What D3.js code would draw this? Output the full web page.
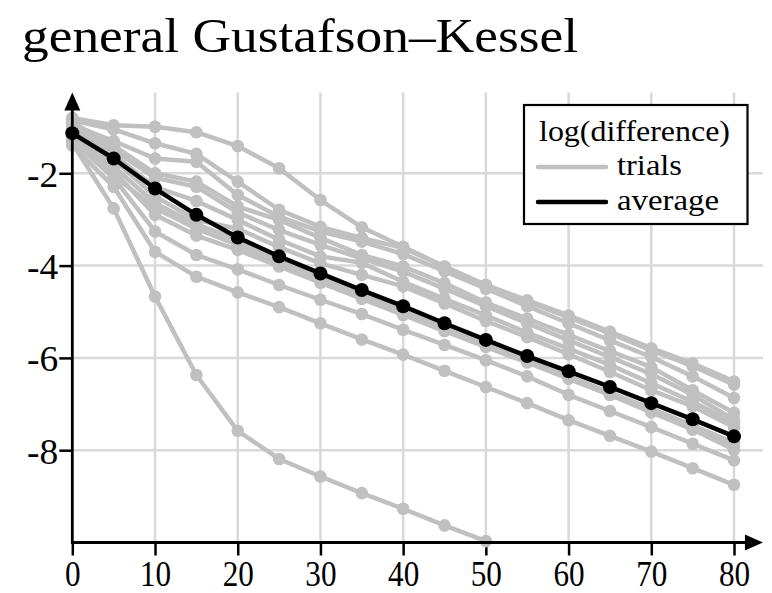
<!DOCTYPE html>
<html>
<head>
<meta charset="utf-8">
<script src="https://cdn.jsdelivr.net/npm/d3@7"></script>
<style>
  html, body { margin: 0; padding: 0; background: #fff; }
  svg { display: block; }
  text { font-family: "Liberation Serif", "Times New Roman", serif; fill: #000; }
</style>
</head>
<body>
<svg id="chart" width="772" height="593"></svg>
<script>
const titleText = "general Gustafson\u2013Kessel";
const legendTitle = "log(difference)";
const legendLabels = ["trials", "average"];

const xValues = [0, 5, 10, 15, 20, 25, 30, 35, 40, 45, 50, 55, 60, 65, 70, 75, 80];
const xTicks = [0, 10, 20, 30, 40, 50, 60, 70, 80];
const yTicks = [-8, -6, -4, -2];
const yTickLabels = ["-8", "-6", "-4", "-2"];

const trialU1 = [-0.80, -0.96, -0.99, -1.11, -1.41, -1.89, -2.58, -3.17, -3.59, -4.02, -4.42, -4.75, -5.08, -5.43, -5.79, -6.12, -6.51];
const trialU2 = [-0.85, -1.05, -1.35, -1.58, -2.18, -2.79, -3.16, -3.40, -3.62, -4.02, -4.42, -4.78, -5.12, -5.47, -5.84, -6.18, -6.58];
const trialU3 = [-0.95, -1.30, -1.68, -1.75, -2.47, -2.94, -3.26, -3.48, -3.75, -4.12, -4.50, -4.88, -5.25, -5.62, -5.98, -6.40, -6.87];
const trialU4 = [-0.90, -1.40, -2.00, -2.18, -2.72, -3.01, -3.40, -3.77, -4.02, -4.38, -4.80, -5.15, -5.50, -5.85, -6.20, -6.70, -7.19];
const trialU5 = [-1.00, -1.50, -2.10, -2.29, -2.85, -3.23, -3.55, -3.85, -4.13, -4.50, -4.88, -5.25, -5.62, -5.98, -6.35, -6.80, -7.34];
const trialU6 = [-1.05, -1.60, -2.30, -2.60, -3.01, -3.44, -3.80, -3.94, -4.35, -4.72, -5.08, -5.45, -5.80, -6.15, -6.55, -6.95, -7.41];
const trialU7 = [-1.15, -1.70, -2.50, -3.01, -3.20, -3.60, -3.95, -4.20, -4.45, -4.82, -5.20, -5.55, -5.92, -6.30, -6.70, -7.05, -7.50];
const trialL4 = [-1.10, -1.85, -2.65, -3.10, -3.45, -3.88, -4.25, -4.62, -4.98, -5.33, -5.68, -6.03, -6.40, -6.75, -7.10, -7.46, -7.84];
const trialL5 = [-1.25, -2.05, -2.75, -3.20, -3.55, -3.95, -4.30, -4.65, -5.00, -5.38, -5.72, -6.08, -6.45, -6.80, -7.18, -7.55, -7.92];
const trialL3 = [-1.20, -1.95, -2.90, -3.35, -3.66, -4.02, -4.37, -4.72, -5.07, -5.42, -5.76, -6.10, -6.45, -6.80, -7.15, -7.55, -7.99];
const trialL2 = [-1.30, -2.10, -3.26, -3.77, -4.08, -4.42, -4.74, -5.05, -5.39, -5.72, -6.05, -6.40, -6.80, -7.15, -7.50, -7.86, -8.22];
const trialL1 = [-1.40, -2.29, -3.70, -4.24, -4.58, -4.90, -5.25, -5.60, -5.93, -6.28, -6.63, -6.98, -7.35, -7.69, -8.03, -8.39, -8.75];
const trialOut = [-1.35, -2.76, -4.67, -6.37, -7.58, -8.19, -8.57, -8.93, -9.27, -9.63, -9.97];

const averageValues = [-1.13, -1.68, -2.33, -2.90, -3.39, -3.80, -4.17, -4.53, -4.88, -5.25, -5.61, -5.96, -6.29, -6.63, -6.98, -7.33, -7.70];

const trials = [trialU1, trialU2, trialU3, trialU4, trialU5, trialU6, trialU7, trialL4, trialL5, trialL3, trialL2, trialL1, trialOut];

const svg = d3.select("#chart");
const trialColor = "#c0c0c0";
const gridColor = "#d9d9d9";

const x = d3.scaleLinear().domain([0, 80]).range([72.3, 734]);
const y = d3.scaleLinear().domain([-10, -2]).range([542.5, 173.3]);
const yTop = -0.25;   // top of y axis (arrow tip)
const xRight = 83.5;  // right end of x axis (arrow tip)

// title
svg.append("text")
  .attr("x", 22).attr("y", 52)
  .attr("font-size", 49)
  .attr("textLength", 556)
  .attr("lengthAdjust", "spacingAndGlyphs")
  .style("font-family", "'Liberation Serif', serif")
  .text(titleText);

// grid
const grid = svg.append("g");
grid.selectAll("line.v").data(xTicks.filter(d => d > 0)).enter().append("line")
  .attr("x1", d => x(d)).attr("x2", d => x(d))
  .attr("y1", y(yTop)).attr("y2", y(-10))
  .attr("stroke", gridColor).attr("stroke-width", 2.5);
grid.selectAll("line.h").data(yTicks).enter().append("line")
  .attr("x1", x(0)).attr("x2", x(xRight))
  .attr("y1", d => y(d)).attr("y2", d => y(d))
  .attr("stroke", gridColor).attr("stroke-width", 2.5);

// axes ticks via d3 axes
const xAxis = svg.append("g").attr("transform", `translate(0,${y(-10)})`)
  .call(d3.axisBottom(x).tickValues(xTicks).tickSize(13).tickPadding(5).tickFormat(d3.format("d")));
const yAxis = svg.append("g").attr("transform", `translate(${x(0)},0)`)
  .call(d3.axisLeft(y).tickValues(yTicks).tickSize(13).tickPadding(1).tickFormat((d, i) => yTickLabels[i]));
[xAxis, yAxis].forEach(g => {
  g.select(".domain").remove();
  g.selectAll(".tick line").attr("stroke", "#000").attr("stroke-width", 2.5);
  g.selectAll(".tick text").attr("font-size", 36)
    .style("font-family", "'Liberation Serif', serif").attr("fill", "#000")
    .attr("lengthAdjust", "spacingAndGlyphs")
    .attr("textLength", function() { return this.textContent.length * 15.6; });
});
xAxis.selectAll(".tick text").attr("dy", "0.71em");
yAxis.selectAll(".tick text").attr("dy", "0.36em");

// data lines
const line = d3.line().x((d, i) => x(xValues[i])).y(d => y(d));
const plot = svg.append("g");
trials.forEach(t => {
  plot.append("path").datum(t).attr("d", line)
    .attr("fill", "none").attr("stroke", trialColor).attr("stroke-width", 4.5)
    .attr("stroke-linejoin", "round");
  plot.selectAll(null).data(t).enter().append("circle")
    .attr("cx", (d, i) => x(xValues[i])).attr("cy", d => y(d)).attr("r", 6.3)
    .attr("fill", trialColor);
});
plot.append("path").datum(averageValues).attr("d", line)
  .attr("fill", "none").attr("stroke", "#000").attr("stroke-width", 4.5)
  .attr("stroke-linejoin", "round");
plot.selectAll(null).data(averageValues).enter().append("circle")
  .attr("cx", (d, i) => x(xValues[i])).attr("cy", d => y(d)).attr("r", 7)
  .attr("fill", "#000");

// axis lines with arrows
svg.append("line").attr("x1", x(0)).attr("x2", x(0))
  .attr("y1", y(-10) + 1.2).attr("y2", y(yTop) + 14)
  .attr("stroke", "#000").attr("stroke-width", 2.8);
svg.append("line").attr("x1", x(0) - 1.2).attr("x2", x(xRight) - 14)
  .attr("y1", y(-10)).attr("y2", y(-10))
  .attr("stroke", "#000").attr("stroke-width", 2.8);
svg.append("path")
  .attr("d", `M${x(0)},${y(yTop)} L${x(0) - 8},${y(yTop) + 18} L${x(0) + 8},${y(yTop) + 18} Z`)
  .attr("fill", "#000");
svg.append("path")
  .attr("d", `M${x(xRight)},${y(-10)} L${x(xRight) - 18},${y(-10) - 8} L${x(xRight) - 18},${y(-10) + 8} Z`)
  .attr("fill", "#000");

// legend
const lg = svg.append("g");
lg.append("rect").attr("x", 524).attr("y", 105).attr("width", 223.5).attr("height", 119)
  .attr("fill", "#fff").attr("stroke", "#000").attr("stroke-width", 2.2);
lg.append("text").attr("x", 539).attr("y", 141)
  .attr("font-size", 29).attr("textLength", 191).attr("lengthAdjust", "spacingAndGlyphs")
  .text(legendTitle);
const legendColors = [trialColor, "#000"];
const legendWidths = [65, 102];
legendLabels.forEach((lab, i) => {
  const ly = 167 + i * 35;
  lg.append("line").attr("x1", 538).attr("x2", 606).attr("y1", ly).attr("y2", ly)
    .attr("stroke", legendColors[i]).attr("stroke-width", 4.5).attr("stroke-linecap", "round");
  lg.append("text").attr("x", 617).attr("y", ly + 8).attr("font-size", 29)
    .attr("textLength", legendWidths[i]).attr("lengthAdjust", "spacingAndGlyphs").text(lab);
});
</script>
</body>
</html>
